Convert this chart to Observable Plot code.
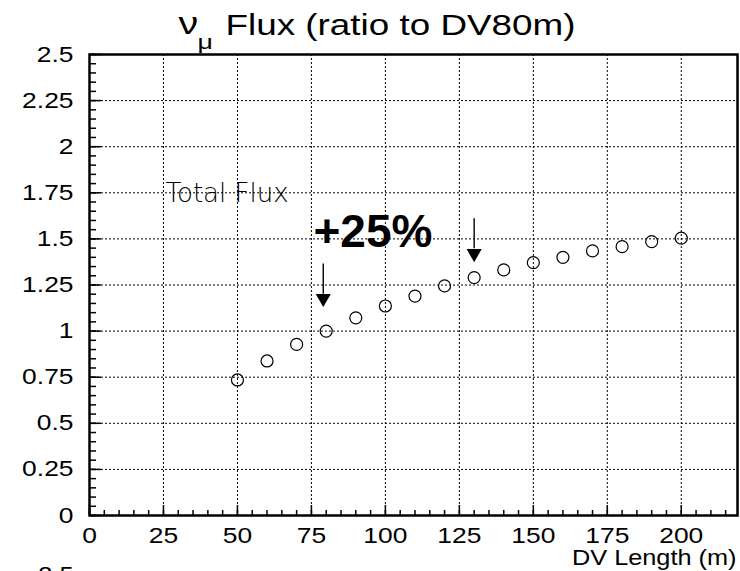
<!DOCTYPE html>
<html><head><meta charset="utf-8">
<script src="https://cdn.jsdelivr.net/npm/d3@7"></script>
<script src="https://cdn.jsdelivr.net/npm/@observablehq/plot@0.6"></script>
<style>body{margin:0;background:#fff;}</style>
</head><body><div id="chart"></div>
<script>
// DV length (m) and nu_mu flux ratio to DV80m
const lengths = [50, 60, 70, 80, 90, 100, 110, 120, 130, 140, 150, 160, 170, 180, 190, 200];
const flux    = [0.735, 0.838, 0.928, 1.0, 1.072, 1.136, 1.19, 1.245, 1.29, 1.332, 1.371, 1.40, 1.435, 1.458, 1.485, 1.504];
const xTicks = [0, 25, 50, 75, 100, 125, 150, 175, 200];
const yTicks = [0, 0.25, 0.5, 0.75, 1, 1.25, 1.5, 1.75, 2, 2.25, 2.5];
const xMinor = d3.range(0, 219, 5);
const yMinor = d3.range(0, 2.5001, 0.05);
const arrows = [{x: 79, y1: 1.364, y2: 1.20, head: 1.178}, {x: 130, y1: 1.609, y2: 1.446, head: 1.421}];
const notes = [{text: "Total Flux", x: 25.7, y: 1.70}];
const bigNote = [{text: "+25%", x: 75.7, y: 1.457}];

const pts = lengths.map((x, i) => ({x, y: flux[i]}));
const font = "'Liberation Sans', Arial, Helvetica, sans-serif";
const dotted = {stroke: "black", strokeOpacity: 1, strokeWidth: 1, strokeDasharray: "2,2"};

const W = 740, H = 571, mL = 89, mR = 3, mT = 54, mB = 56;
const fw = W - mL - mR, fh = H - mT - mB;

const chart = Plot.plot({
  width: W, height: H,
  marginLeft: mL, marginRight: mR, marginTop: mT, marginBottom: mB,
  x: {domain: [0, 219]},
  y: {domain: [0, 2.5]},
  style: {fontFamily: font, background: "white", color: "black", overflow: "hidden"},
  marks: [
    Plot.gridX(xTicks.filter(v => v > 0), dotted),
    Plot.gridY(yTicks.filter(v => v > 0 && v < 2.5), dotted),
    // inward ticks from the left and bottom frame edges
    Plot.ruleY(yMinor, {y: d => d, insetRight: fw - 7, stroke: "black", strokeWidth: 1.5}),
    Plot.ruleY(yTicks, {y: d => d, insetRight: fw - 12, stroke: "black", strokeWidth: 1.5}),
    Plot.ruleX(xMinor, {x: d => d, insetTop: fh - 5, stroke: "black", strokeWidth: 1.5}),
    Plot.ruleX(xTicks, {x: d => d, insetTop: fh - 10, stroke: "black", strokeWidth: 1.5}),
    Plot.axisY(yTicks, {anchor: "left", tickSize: 0, tickPadding: 16, fontSize: 22, label: null, tickFormat: d => String(d)}),
    Plot.axisX(xTicks, {anchor: "bottom", tickSize: 0, tickPadding: 12, fontSize: 22, label: null, tickFormat: d => String(d)}),
    Plot.frame({stroke: "black", strokeWidth: 2.5}),
    Plot.dot(pts, {x: "x", y: "y", r: 6, stroke: "black", strokeWidth: 1.2, fill: "none"}),
    Plot.text(notes, {x: "x", y: "y", text: "text", textAnchor: "start", lineAnchor: "bottom", fontSize: 26, fontWeight: 200, fontFamily: "'DejaVu Sans', sans-serif", fill: "black"}),
    Plot.text(bigNote, {x: "x", y: "y", text: "text", textAnchor: "start", lineAnchor: "bottom", fontSize: 46, fontWeight: "bold", fontFamily: font, fill: "black"}),
    Plot.ruleX(arrows, {x: "x", y1: "y1", y2: "y2", stroke: "black", strokeWidth: 1.4}),
    Plot.dot(arrows, {x: "x", y: "head", symbol: "triangle", rotate: 180, r: 5.6, fill: "black", stroke: "none"}),
    Plot.text(["ν"], {frameAnchor: "top-left", dx: 89, dy: -21, textAnchor: "start", lineAnchor: "bottom", fontSize: 31, className: "ttl"}),
    Plot.text(["μ"], {frameAnchor: "top-left", dx: 108, dy: -6, textAnchor: "start", lineAnchor: "bottom", fontSize: 21, className: "ttl"}),
    Plot.text(["Flux (ratio to DV80m)"], {frameAnchor: "top-left", dx: 136, dy: -20, textAnchor: "start", lineAnchor: "bottom", fontSize: 29, className: "ttl"}),
    Plot.text(["DV Length (m)"], {frameAnchor: "bottom-right", dx: -1, dy: 49, textAnchor: "end", lineAnchor: "bottom", fontSize: 22, className: "lbl"}),
    Plot.text(["2.5"], {frameAnchor: "bottom-left", dx: -16, dy: 59, textAnchor: "end", lineAnchor: "middle", fontSize: 22, className: "lbl"})
  ]
});
document.getElementById("chart").appendChild(chart);

function stretch(sel, f) {
  document.querySelectorAll(sel).forEach(t => {
    const L = t.getComputedTextLength();
    if (L > 0) { t.setAttribute("textLength", L * f); t.setAttribute("lengthAdjust", "spacingAndGlyphs"); }
  });
}
stretch('[aria-label="y-axis tick label"] text', 1.2);
stretch('[aria-label="x-axis tick label"] text', 1.2);
stretch('.ttl text', 1.27);
stretch('.lbl text', 1.15);
</script>
</body></html>
